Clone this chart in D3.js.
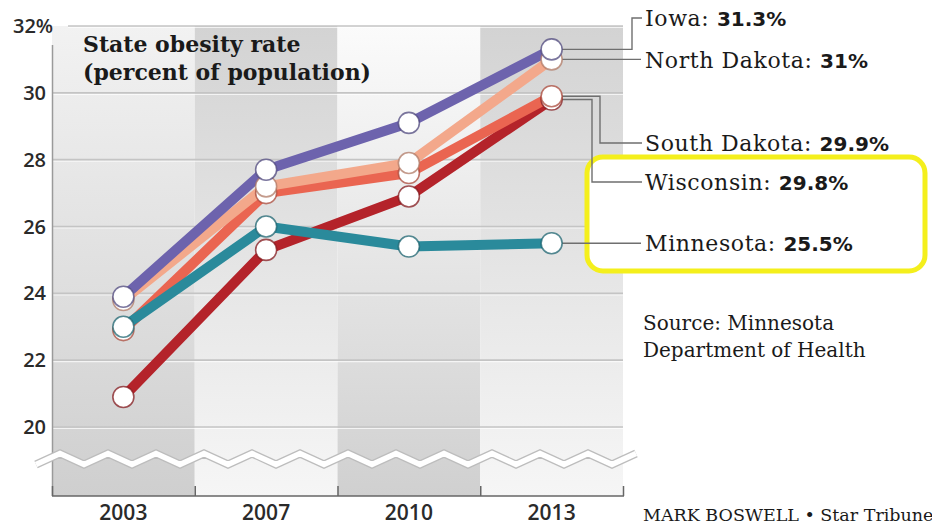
<!DOCTYPE html>
<html>
<head>
<meta charset="utf-8">
<script src="https://cdn.jsdelivr.net/npm/d3@7"></script>
<style>
  html, body { margin: 0; padding: 0; background: #ffffff; }
  svg { display: block; }
</style>
</head>
<body>
<svg id="chart" width="932" height="526"></svg>
<script>
// Survey years and state obesity rates (percent of population)
const years = ["2003", "2007", "2010", "2013"];
const states = ["Iowa", "North Dakota", "South Dakota", "Wisconsin", "Minnesota"];
const iowa        = [23.9, 27.7, 29.1, 31.3];
const northDakota = [23.8, 27.2, 27.9, 31.0];
const southDakota = [22.9, 27.0, 27.6, 29.9];
const wisconsin   = [20.9, 25.3, 26.9, 29.8];
const minnesota   = [23.0, 26.0, 25.4, 25.5];
const yTicks = [20, 22, 24, 26, 28, 30, 32];

const seriesValues = [iowa, northDakota, southDakota, wisconsin, minnesota];
const colors = ["#6d63ad", "#f3a88b", "#ea6551", "#b4232a", "#2a8a9b"];
// Draw order: later entries sit on top
const drawOrder = [3, 2, 1, 4, 0];

const svg = d3.select("#chart");

const x = d3.scaleBand().domain(years).range([52, 623]).padding(0);
const y = d3.scaleLinear().domain([20, 32]).range([427, 26]);
const colTop = y(32), colBottom = 496;

// Column background gradients, alternating direction
const defs = svg.append("defs");
function vGrad(id, top, bottom) {
  const g = defs.append("linearGradient").attr("id", id)
    .attr("x1", 0).attr("y1", 0).attr("x2", 0).attr("y2", 1);
  g.append("stop").attr("offset", "0%").attr("stop-color", top);
  g.append("stop").attr("offset", "100%").attr("stop-color", bottom);
}
vGrad("gDown", "#f2f2f2", "#cfcfcf");
vGrad("gUp", "#d3d3d3", "#f6f6f6");
vGrad("gDownW", "#fbfbfb", "#d0d0d0");
const colFills = ["url(#gDown)", "url(#gUp)", "url(#gDownW)", "url(#gUp)"];

svg.append("g").selectAll("rect").data(years).join("rect")
  .attr("x", d => x(d))
  .attr("y", colTop)
  .attr("width", x.bandwidth())
  .attr("height", colBottom - colTop)
  .attr("fill", (d, i) => colFills[i]);

// Gridlines (embossed: gray line with a white line beneath)
const grid = svg.append("g");
grid.selectAll("line.w").data(yTicks).join("line").attr("class", "w")
  .attr("x1", d => d === 32 ? 68 : 52).attr("x2", 623)
  .attr("y1", d => y(d) + 1.5).attr("y2", d => y(d) + 1.5)
  .attr("stroke", "#ffffff").attr("stroke-opacity", 0.7).attr("stroke-width", 1.2);
grid.selectAll("line.g").data(yTicks).join("line").attr("class", "g")
  .attr("x1", d => d === 32 ? 68 : 52).attr("x2", 623)
  .attr("y1", d => y(d)).attr("y2", d => y(d))
  .attr("stroke", "#c4c4c4").attr("stroke-width", 1.6);

// Vertical axis line
svg.append("line")
  .attr("x1", 52.5).attr("x2", 52.5).attr("y1", 45).attr("y2", colBottom)
  .attr("stroke", "#9a9a9a").attr("stroke-width", 1.5);

// Axis break zigzag
const zigPts = [];
{
  const x0 = 36, x1 = 636, period = 48, amp = 5.5, cy = 459;
  let k = 0;
  for (let xx = x0; xx <= x1; xx += period / 2, k++) {
    zigPts.push([xx, cy + (k % 2 === 0 ? amp : -amp)]);
  }
}
const zig = d3.line();
svg.append("path").attr("d", zig(zigPts)).attr("fill", "none")
  .attr("stroke", "#bdbdbd").attr("stroke-width", 8).attr("stroke-linejoin", "miter");
svg.append("path").attr("d", zig(zigPts)).attr("fill", "none")
  .attr("stroke", "#ffffff").attr("stroke-width", 5.5).attr("stroke-linejoin", "miter");

// Bottom axis with boundary ticks
const xAxisG = svg.append("g");
xAxisG.append("line").attr("x1", 52).attr("x2", 624).attr("y1", colBottom).attr("y2", colBottom)
  .attr("stroke", "#666").attr("stroke-width", 1.5);
const edges = years.map(d => x(d)).concat([x(years[years.length - 1]) + x.bandwidth()]);
xAxisG.selectAll("line.t").data(edges).join("line").attr("class", "t")
  .attr("x1", d => d + 0.5).attr("x2", d => d + 0.5)
  .attr("y1", colBottom - 10).attr("y2", colBottom)
  .attr("stroke", "#666").attr("stroke-width", 1.5);
xAxisG.selectAll("text").data(years).join("text")
  .attr("x", d => x(d) + x.bandwidth() / 2)
  .attr("y", 520)
  .attr("text-anchor", "middle")
  .attr("font-family", "'Open Sans', sans-serif")
  .attr("font-weight", 600)
  .attr("font-size", 21)
  .attr("fill", "#2a2a2a")
  .text(d => d);

// Y tick labels
svg.append("g").selectAll("text").data(yTicks).join("text")
  .attr("x", d => d === 32 ? 13 : 46)
  .attr("y", d => y(d) + 7)
  .attr("text-anchor", d => d === 32 ? "start" : "end")
  .attr("font-family", "'Open Sans', sans-serif")
  .attr("font-weight", 600)
  .attr("font-size", 20)
  .attr("fill", "#2a2a2a")
  .text(d => d === 32 ? d + "%" : d);

// Title
const title = svg.append("text")
  .attr("font-family", "'DejaVu Serif', serif")
  .attr("font-weight", "bold")
  .attr("font-size", 22)
  .attr("fill", "#1a1a1a");
title.append("tspan").attr("x", 83).attr("y", 52).text("State obesity rate");
title.append("tspan").attr("x", 83).attr("y", 80).text("(percent of population)");

// Highlight box behind Wisconsin and Minnesota labels
svg.append("rect")
  .attr("x", 587).attr("y", 157).attr("width", 338).attr("height", 114)
  .attr("rx", 16).attr("ry", 16)
  .attr("fill", "#ffffff")
  .attr("stroke", "#f4ef1c").attr("stroke-width", 5);

// Leader lines from 2013 points to labels
const lastX = x(years[3]) + x.bandwidth() / 2;
const labelY = [18, 60, 143, 182, 243];
const elbowX = [632, null, 600, 592, null];
const leader = svg.append("g").attr("fill", "none").attr("stroke", "#6f6f6f").attr("stroke-width", 1.4);
states.forEach((s, i) => {
  const py = y(seriesValues[i][3]);
  let pts;
  if (elbowX[i] === null) {
    pts = [[lastX, py], [641, py]];
  } else {
    pts = [[lastX, py], [elbowX[i], py], [elbowX[i], labelY[i]], [642, labelY[i]]];
  }
  leader.append("path").attr("d", d3.line()(pts));
});

// Series lines and point markers
const lineGen = d3.line()
  .x((d, i) => x(years[i]) + x.bandwidth() / 2)
  .y(d => y(d));

const seriesG = svg.append("g");
drawOrder.forEach(i => {
  seriesG.append("path")
    .attr("d", lineGen(seriesValues[i]))
    .attr("fill", "none")
    .attr("stroke", colors[i])
    .attr("stroke-width", 10)
    .attr("stroke-linejoin", "round")
    .attr("stroke-linecap", "round");
});
drawOrder.forEach(i => {
  seriesG.append("g").selectAll("circle").data(seriesValues[i]).join("circle")
    .attr("cx", (d, j) => x(years[j]) + x.bandwidth() / 2)
    .attr("cy", d => y(d))
    .attr("r", 10.5)
    .attr("fill", "#ffffff")
    .attr("stroke", d3.color(colors[i]).darker(0.9).formatHex())
    .attr("stroke-opacity", 0.75)
    .attr("stroke-width", 1.6);
});

// State labels with values
const labels = svg.append("g");
states.forEach((s, i) => {
  const t = labels.append("text")
    .attr("x", 645)
    .attr("y", labelY[i] + 8)
    .attr("fill", "#1a1a1a");
  t.append("tspan")
    .attr("font-family", "'DejaVu Serif', serif")
    .attr("font-size", 22)
    .attr("letter-spacing", 0.6)
    .text(s + ": ");
  t.append("tspan")
    .attr("font-family", "'DejaVu Sans', sans-serif")
    .attr("font-weight", "bold")
    .attr("font-size", 20)
    .text(seriesValues[i][3] + "%");
});

// Source and credit
const src = svg.append("text")
  .attr("font-family", "'DejaVu Serif', serif")
  .attr("font-size", 20)
  .attr("fill", "#1a1a1a");
src.append("tspan").attr("x", 643).attr("y", 330).text("Source: Minnesota");
src.append("tspan").attr("x", 643).attr("y", 357).text("Department of Health");

svg.append("text")
  .attr("x", 643).attr("y", 521)
  .attr("font-family", "'DejaVu Serif', serif")
  .attr("font-size", 17.5)
  .attr("fill", "#1a1a1a")
  .text("MARK BOSWELL \u2022 Star Tribune");
</script>
</body>
</html>
